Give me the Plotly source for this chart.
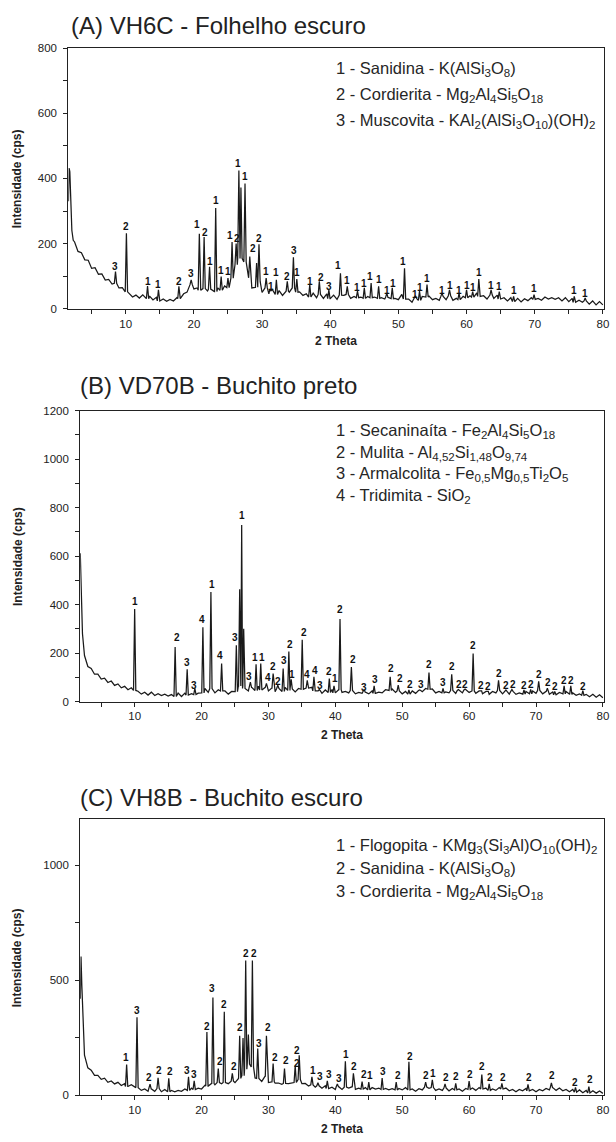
import plotly.graph_objects as go

# ---------------- DATA ----------------
# Panel A  (VH6C - Folhelho escuro)
headA_x = [1.60, 1.70, 1.80, 1.95, 2.10, 2.30]
headA_y = [330, 432, 420, 300, 240, 210]
bgA_y = [205, 176, 172, 150, 149, 124, 126, 106, 107, 88,
         90, 76, 78, 64, 65, 52, 46, 36, 42, 33,
         43, 31, 39, 27, 35, 24, 30, 23, 29, 24,
         34, 31, 46, 51, 74, 61, 64, 57, 62, 55,
         60, 53, 64, 57, 70, 65, 94, 135, 154, 155,
         144, 95, 64, 66, 84, 50, 64, 46, 59, 44,
         56, 41, 54, 51, 64, 51, 52, 41, 46, 36,
         48, 34, 44, 32, 46, 31, 42, 29, 42, 41,
         44, 32, 38, 34, 36, 32, 38, 34, 36, 32,
         34, 30, 35, 31, 32, 28, 44, 30, 30, 20,
         32, 26, 38, 36, 39, 28, 32, 26, 38, 28,
         40, 26, 32, 28, 38, 34, 40, 36, 49, 38,
         40, 30, 42, 32, 42, 30, 34, 24, 34, 22,
         32, 21, 31, 25, 34, 29, 32, 26, 36, 30,
         34, 29, 34, 24, 34, 22, 32, 20, 26, 20,
         24, 14, 24, 12, 22, 12]
pkA_x = [8.5, 10.1, 13.2, 14.8, 17.8, 19.6, 20.8, 21.5, 22.3, 23.2,
         24.0, 25.0, 25.6, 26.2, 26.6, 26.9, 27.5, 28.2, 29.2, 29.55,
         30.6, 31.3, 32.1, 33.7, 34.6, 35.1, 37.0, 38.4, 39.8, 41.5,
         42.5, 44.0, 45.0, 46.0, 47.1, 48.3, 49.1, 50.9, 52.5, 53.1,
         54.2, 56.4, 57.5, 58.9, 60.0, 60.9, 61.8, 63.6, 64.8, 66.9,
         69.9, 75.8, 77.4]
pkA_y = [114, 232, 70, 58, 69, 89, 230, 220, 129, 309,
         99, 94, 205, 200, 424, 372, 384, 160, 140, 198,
         94, 55, 89, 84, 158, 91, 74, 84, 58, 109,
         69, 54, 64, 79, 69, 48, 64, 124, 40, 54,
         74, 48, 58, 48, 58, 53, 91, 58, 53, 38,
         43, 38, 33]
labA_x = [8.5, 10.1, 13.2, 14.7, 17.8, 19.6, 20.4, 21.6, 22.3, 23.2,
          24.0, 25.0, 25.3, 26.3, 26.5, 27.5, 28.7, 29.5, 30.6, 31.3,
          32.0, 33.7, 34.7, 35.2, 37.0, 38.7, 39.8, 41.1, 42.5, 44.0,
          45.0, 45.9, 47.2, 48.3, 49.2, 50.7, 52.4, 53.1, 54.2, 56.4,
          57.5, 58.9, 60.0, 60.9, 61.8, 63.6, 64.7, 66.9, 69.9, 75.8,
          77.4]
labA_y = [129, 254, 84, 74, 84, 107, 258, 235, 144, 333,
          119, 113, 225, 215, 445, 405, 185, 215, 113, 69,
          112, 99, 178, 111, 84, 96, 67, 134, 87, 64,
          77, 99, 89, 57, 79, 144, 45, 66, 92, 57,
          71, 57, 71, 64, 112, 72, 69, 56, 61, 56,
          48]
labA_t = list("32112" "31211" "11121" "12211" "12311" "23"
              "111111111111" "111111111111")

# Panel B  (VD70B - Buchito preto)
headB_x = [1.87, 1.95, 2.07, 2.20, 2.35]
headB_y = [612, 560, 409, 280, 210]
bgB_y = [190, 145, 137, 113, 113, 93, 97, 79, 85, 67,
         73, 57, 63, 49, 57, 46, 43, 31, 39, 27,
         39, 25, 33, 25, 31, 23, 29, 21, 35, 21,
         35, 27, 33, 29, 35, 36, 54, 38, 54, 36,
         49, 44, 44, 31, 42, 41, 64, 66, 54, 44,
         59, 46, 64, 48, 59, 44, 56, 41, 54, 42,
         59, 46, 52, 40, 54, 51, 54, 56, 59, 44,
         44, 34, 48, 38, 50, 36, 49, 38, 42, 36,
         46, 32, 38, 34, 39, 32, 44, 34, 39, 36,
         49, 46, 52, 38, 44, 32, 42, 31, 44, 34,
         46, 41, 54, 51, 52, 36, 42, 36, 40, 36,
         46, 34, 46, 36, 48, 38, 44, 34, 44, 32,
         42, 30, 42, 36, 46, 32, 42, 31, 42, 30,
         36, 31, 42, 32, 44, 34, 46, 32, 42, 30,
         40, 28, 38, 32, 42, 30, 36, 26, 32, 26,
         30, 20, 30, 18, 28, 16]
pkB_x = [10.0, 16.05, 17.85, 19.0, 20.2, 21.4, 23.0, 25.2, 25.7, 26.0,
         26.3, 27.3, 28.15, 28.85, 29.7, 30.7, 31.4, 32.2, 33.05, 33.4,
         35.05, 35.8, 36.8, 37.6, 39.1, 39.8, 40.7, 42.4, 44.3, 45.8,
         48.2, 49.4, 51.0, 52.6, 54.0, 56.1, 57.4, 58.4, 59.4, 60.6,
         61.7, 62.7, 64.4, 65.5, 66.4, 68.2, 69.2, 70.4, 71.7, 72.8,
         74.2, 75.2, 77.0]
pkB_y = [382, 225, 133, 55, 307, 452, 157, 232, 463, 729,
         300, 80, 154, 157, 75, 116, 68, 136, 207, 92,
         255, 88, 102, 50, 95, 65, 341, 143, 50, 65,
         102, 68, 48, 48, 120, 54, 113, 50, 52, 198,
         45, 42, 88, 48, 50, 48, 50, 84, 55, 42,
         65, 65, 45]
labB_x = [10.0, 16.4, 17.8, 18.9, 20.0, 21.5, 22.8, 25.0, 26.0, 27.1,
          28.05, 29.05, 29.9, 30.7, 31.4, 32.3, 33.2, 33.5, 35.25, 35.8,
          36.9, 37.7, 39.1, 39.9, 40.75, 42.7, 44.3, 45.9, 48.3, 49.7,
          51.2, 52.75, 54.0, 56.1, 57.5, 58.5, 59.45, 60.6, 61.8, 62.8,
          64.4, 65.55, 66.5, 68.2, 69.2, 70.4, 71.75, 72.85, 74.2, 75.3,
          77.05]
labB_y = [412, 263, 161, 65, 337, 484, 189, 263, 766, 102,
          184, 184, 98, 143, 82, 168, 236, 113, 286, 112,
          127, 65, 125, 95, 379, 174, 57, 91, 136, 95,
          71, 71, 153, 78, 146, 71, 71, 232, 68, 61,
          116, 68, 71, 68, 71, 113, 77, 61, 88, 88,
          64]
labB_t = list("12334" "14313" "11422" "32124" "43212" "23322" "23232"
              "22222222" "22222222")

# Panel C  (VH8B - Buchito escuro)
headC_x = [1.88, 1.98, 2.10, 2.25, 2.40]
headC_y = [420, 604, 480, 330, 220]
bgC_y = [175, 120, 110, 87, 87, 70, 75, 57, 63, 50,
         57, 43, 51, 39, 47, 36, 34, 22, 28, 18,
         28, 18, 30, 16, 26, 16, 22, 16, 22, 18,
         28, 22, 32, 26, 32, 28, 44, 41, 52, 46,
         56, 51, 56, 51, 62, 56, 74, 86, 114, 136,
         124, 76, 74, 61, 84, 56, 59, 54, 54, 48,
         52, 51, 54, 56, 69, 51, 52, 41, 46, 36,
         42, 31, 42, 30, 36, 26, 38, 26, 36, 32,
         38, 26, 32, 28, 34, 24, 34, 28, 32, 26,
         30, 24, 29, 24, 30, 24, 34, 24, 28, 18,
         29, 24, 36, 31, 34, 22, 28, 22, 32, 20,
         30, 24, 28, 18, 30, 26, 32, 22, 34, 28,
         32, 22, 28, 22, 34, 28, 32, 20, 26, 16,
         26, 20, 30, 20, 26, 16, 26, 20, 30, 24,
         34, 22, 32, 20, 26, 16, 26, 14, 24, 12,
         22, 11, 20, 10, 19, 9]
pkC_x = [8.8, 10.35, 12.3, 13.5, 15.1, 18.05, 18.9, 20.8, 21.7, 22.5,
         23.4, 24.6, 25.7, 26.2, 26.6, 27.0, 27.6, 28.4, 29.7, 30.7,
         32.4, 34.0, 34.6, 36.5, 37.4, 38.8, 40.3, 41.5, 42.7, 44.0,
         45.0, 47.0, 49.1, 51.0, 53.5, 54.5, 56.4, 58.0, 60.0, 61.9,
         63.0, 64.9, 68.8, 72.3, 75.9, 77.9]
pkC_y = [134, 340, 49, 77, 74, 81, 63, 276, 426, 117,
         364, 96, 259, 250, 587, 265, 587, 204, 259, 139,
         117, 130, 174, 81, 55, 63, 50, 149, 96, 60,
         58, 75, 58, 146, 58, 68, 50, 52, 62, 91,
         50, 52, 48, 55, 35, 38]
labC_x = [8.66, 10.35, 12.2, 13.6, 15.25, 17.8, 18.9, 20.8, 21.6, 22.8,
          23.4, 24.9, 25.7, 26.7, 27.8, 28.6, 30.0, 31.0, 32.6, 34.3,
          34.3, 36.7, 37.7, 39.0, 40.5, 41.6, 42.85, 44.25, 45.2, 47.2,
          49.3, 51.1, 53.6, 54.6, 56.5, 58.1, 60.1, 61.9, 63.1, 65.0,
          68.9, 72.4, 75.9, 78.0]
labC_y = [167, 371, 79, 110, 103, 110, 91, 301, 466, 146,
          397, 124, 296, 619, 619, 226, 294, 163, 153, 196,
          139, 110, 81, 91, 74, 177, 124, 91, 86, 106,
          86, 171, 86, 96, 79, 81, 93, 124, 79, 79,
          79, 86, 57, 70]
labC_t = list("13222" "33232" "22222" "32222" "21333" "12213" "22212"
              "222222222")

legA = ["1 - Sanidina - K(AlSi<sub>3</sub>O<sub>8</sub>)",
        "2 - Cordierita - Mg<sub>2</sub>Al<sub>4</sub>Si<sub>5</sub>O<sub>18</sub>",
        "3 - Muscovita - KAl<sub>2</sub>(AlSi<sub>3</sub>O<sub>10</sub>)(OH)<sub>2</sub>"]
legB = ["1 - Secaninaíta - Fe<sub>2</sub>Al<sub>4</sub>Si<sub>5</sub>O<sub>18</sub>",
        "2 - Mulita - Al<sub>4,52</sub>Si<sub>1,48</sub>O<sub>9,74</sub>",
        "3 - Armalcolita - Fe<sub>0,5</sub>Mg<sub>0,5</sub>Ti<sub>2</sub>O<sub>5</sub>",
        "4 - Tridimita - SiO<sub>2</sub>"]
legC = ["1 - Flogopita - KMg<sub>3</sub>(Si<sub>3</sub>Al)O<sub>10</sub>(OH)<sub>2</sub>",
        "2 - Sanidina - K(AlSi<sub>3</sub>O<sub>8</sub>)",
        "3 - Cordierita - Mg<sub>2</sub>Al<sub>4</sub>Si<sub>5</sub>O<sub>18</sub>"]

titles = ["(A) VH6C - Folhelho escuro", "(B) VD70B - Buchito preto", "(C) VH8B - Buchito escuro"]

# ---------------- LAYOUT ----------------
W, H = 616, 1142
FONT = "Liberation Sans, Arial, sans-serif"
INK = "#1a1a1a"


def px(p):
    return p / W


def py(p):
    return (H - p) / H


def build_trace(head_x, head_y, bg_y, pk_x, pk_y, hw=0.17):
    bg_x = [2.5 + 0.5 * i for i in range(len(bg_y))]
    pts = list(zip(head_x, head_y))
    for x, y in zip(bg_x, bg_y):
        if all(abs(x - p) > hw for p in pk_x):
            pts.append((x, y))
    for p, h in zip(pk_x, pk_y):
        j = min(range(len(bg_x)), key=lambda k: abs(bg_x[k] - p))
        b = bg_y[j]
        pts += [(p - hw, b), (p, h), (p + hw, b)]
    pts.sort()
    return [q[0] for q in pts], [q[1] for q in pts]


panels = [
    dict(head=(headA_x, headA_y), bg=bgA_y, pk=(pkA_x, pkA_y), lab=(labA_x, labA_y, labA_t),
         leg=legA, leg_y=[64, 90, 116], xdom=(69, 609.5), ydom=(42.5, 306),
         xr=[1.58, 80.1], yr=[0, 800], dt=200, mdt=100,
         title_xy=(70, 20), xt_y=339, yt_x=18),
    dict(head=(headB_x, headB_y), bg=bgB_y, pk=(pkB_x, pkB_y), lab=(labB_x, labB_y, labB_t),
         leg=legB, leg_y=[430, 452, 473, 495], xdom=(81, 609.5), ydom=(409, 703),
         xr=[1.86, 80.1], yr=[0, 1200], dt=200, mdt=100,
         title_xy=(79, 384), xt_y=737, yt_x=18),
    dict(head=(headC_x, headC_y), bg=bgC_y, pk=(pkC_x, pkC_y), lab=(labC_x, labC_y, labC_t),
         leg=legC, leg_y=[849, 872, 895], xdom=(81, 609.5), ydom=(822, 1101),
         xr=[1.86, 80.1], yr=[0, 1200], dt=500, mdt=250,
         title_xy=(79, 800), xt_y=1135, yt_x=18),
]

fig = go.Figure()
annotations = []
layout_axes = {}

for i, P in enumerate(panels, start=1):
    sfx = "" if i == 1 else str(i)
    xs, ys = build_trace(P["head"][0], P["head"][1], P["bg"], P["pk"][0], P["pk"][1])
    fig.add_trace(go.Scatter(x=xs, y=ys, mode="lines", xaxis="x" + sfx, yaxis="y" + sfx,
                             line=dict(color=INK, width=1.25), hoverinfo="skip"))
    common = dict(showline=True, linecolor="#222", linewidth=1, mirror=True,
                  showgrid=False, zeroline=False, ticks="outside", ticklen=4,
                  tickwidth=1, tickcolor="#222",
                  tickfont=dict(family=FONT, size=11.5, color="#222"))
    layout_axes["xaxis" + sfx] = dict(
        domain=[px(P["xdom"][0]), px(P["xdom"][1])], range=P["xr"], anchor="y" + sfx,
        tick0=0, dtick=10,
        minor=dict(dtick=5, tick0=0, ticks="outside", ticklen=4, tickcolor="#222"),
        **common)
    layout_axes["yaxis" + sfx] = dict(
        domain=[py(P["ydom"][1]), py(P["ydom"][0])], range=P["yr"], anchor="x" + sfx,
        tick0=0, dtick=P["dt"], ticklabelstandoff=4,
        minor=dict(dtick=P["mdt"], tick0=0, ticks="outside", ticklen=4, tickcolor="#222"),
        **common)

    annotations.append(dict(text=titles[i - 1], xref="paper", yref="paper",
                            x=px(P["title_xy"][0]), y=py(P["title_xy"][1]),
                            xanchor="left", yanchor="middle", showarrow=False,
                            font=dict(family=FONT, size=24, color="#222")))
    for t, ly in zip(P["leg"], P["leg_y"]):
        annotations.append(dict(text=t, xref="paper", yref="paper", x=px(337), y=py(ly),
                                xanchor="left", yanchor="middle", showarrow=False,
                                font=dict(family=FONT, size=16.5, color="#262626")))
    xc = (P["xdom"][0] + P["xdom"][1]) / 2
    yc = (P["ydom"][0] + P["ydom"][1]) / 2
    annotations.append(dict(text="<b>2 Theta</b>", xref="paper", yref="paper",
                            x=px(xc), y=py(P["xt_y"]), xanchor="center", yanchor="middle",
                            showarrow=False, font=dict(family=FONT, size=12, color="#222")))
    annotations.append(dict(text="<b>Intensidade (cps)</b>", xref="paper", yref="paper",
                            x=px(P["yt_x"]), y=py(yc), xanchor="center", yanchor="middle",
                            textangle=-90, showarrow=False,
                            font=dict(family=FONT, size=12, color="#222")))
    for lx, ly, lt in zip(*P["lab"]):
        annotations.append(dict(text="<b>%s</b>" % lt, xref="x" + sfx, yref="y" + sfx,
                                x=lx, y=ly, xanchor="center", yanchor="middle",
                                showarrow=False, borderpad=0,
                                font=dict(family=FONT, size=10, color="#111")))

fig.update_layout(width=W, height=H, autosize=False,
                  margin=dict(l=0, r=0, t=0, b=0),
                  paper_bgcolor="white", plot_bgcolor="white",
                  showlegend=False, annotations=annotations, **layout_axes)

fig.write_html("out.html",
               config={"displayModeBar": False, "staticPlot": True},
               post_script="document.body.style.margin='0';"
                           "document.body.style.overflow='hidden';")
